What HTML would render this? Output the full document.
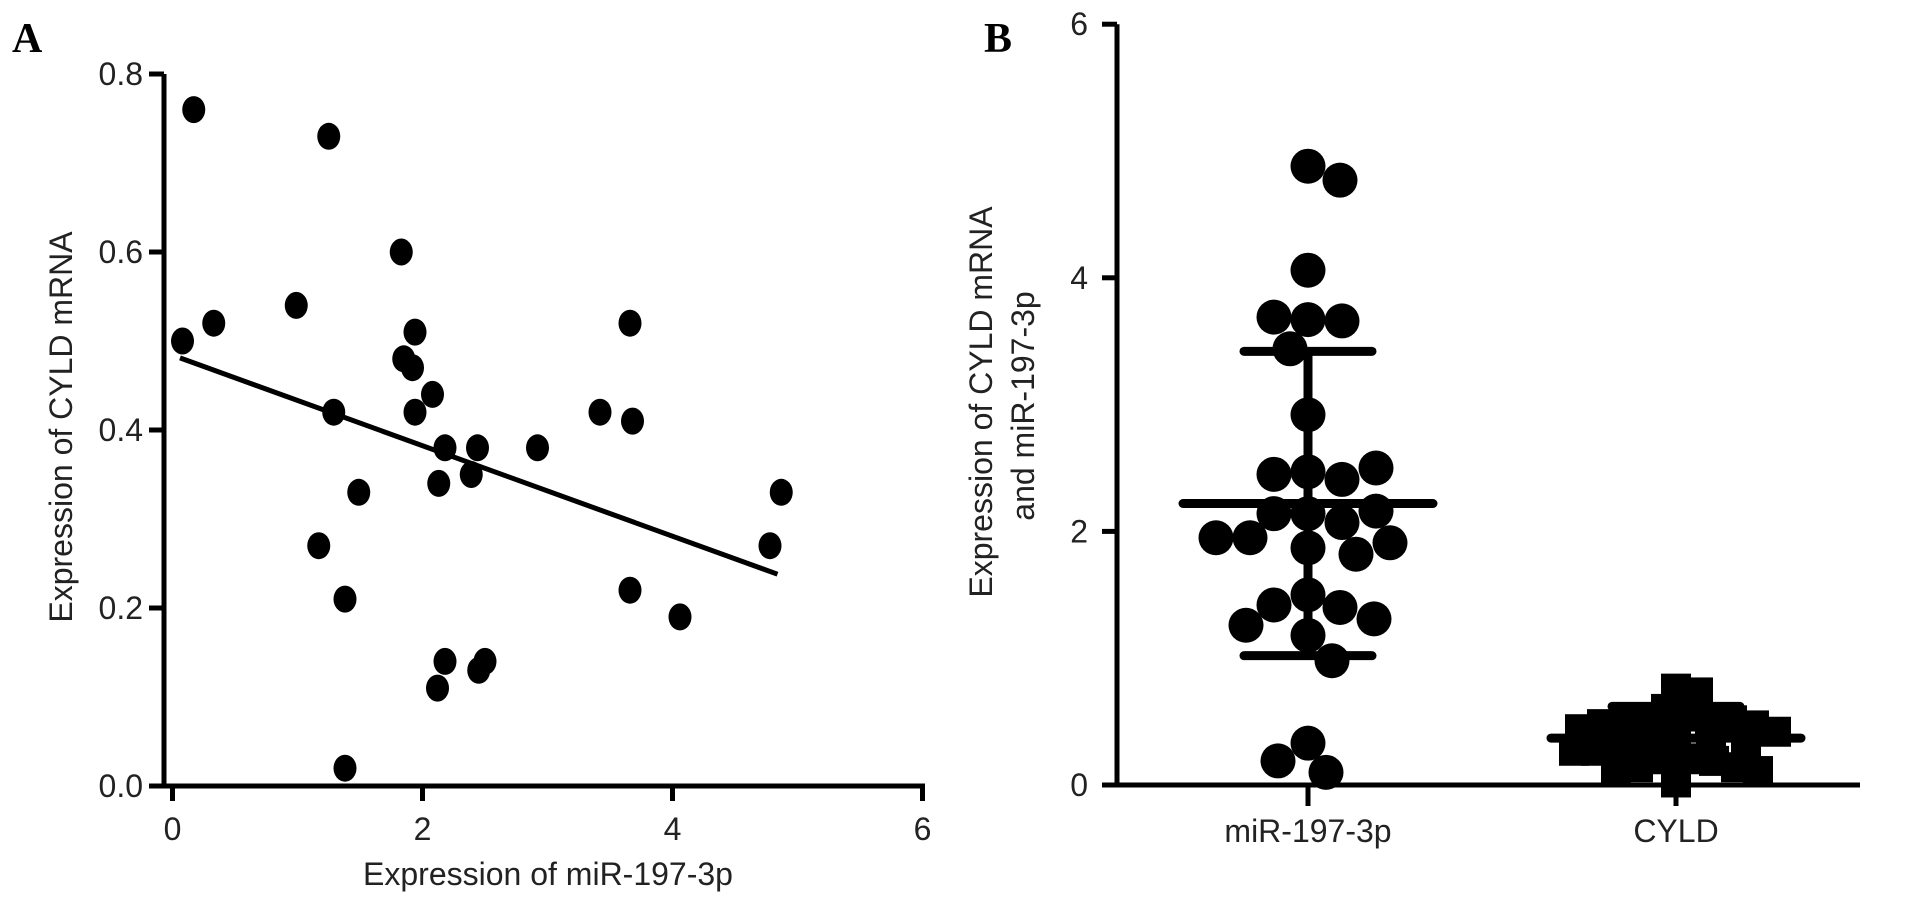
<!DOCTYPE html>
<html><head><meta charset="utf-8"><style>
html,body{margin:0;padding:0;background:#fff;}
svg{display:block;font-family:"Liberation Sans",sans-serif;}
</style></head><body>
<svg id="fig" width="1913" height="905" viewBox="0 0 1913 905"></svg>
<script>
// ---- Panel A data ----
const aX = [0.17,1.25,1.83,0.99,0.33,0.08,3.66,1.94,1.85,1.92,2.08,1.94,1.29,3.42,3.68,2.18,2.44,2.92,2.39,2.13,1.49,4.87,1.17,4.78,1.38,3.66,4.06,2.18,2.50,2.45,2.12,1.38];
const aY = [0.76,0.73,0.60,0.54,0.52,0.50,0.52,0.51,0.48,0.47,0.44,0.42,0.42,0.42,0.41,0.38,0.38,0.38,0.35,0.34,0.33,0.33,0.27,0.27,0.21,0.22,0.19,0.14,0.14,0.13,0.11,0.02];
const aFitX = [0.06,4.84];
const aFitY = [0.481,0.238];
const aXTicks = [0,2,4,6];
const aYTicks = [0.0,0.2,0.4,0.6,0.8];
const aYTickLabels = ["0.0","0.2","0.4","0.6","0.8"];
// ---- Panel B data ----
const bCategories = ["miR-197-3p","CYLD"];
const bMir = [4.88,4.77,4.06,3.67,3.66,3.69,3.44,2.92,2.47,2.41,2.45,2.50,2.14,2.07,2.14,2.16,1.95,1.87,1.82,1.91,1.95,1.50,1.40,1.42,1.31,1.18,1.26,0.98,0.33,0.10,0.19];
const bCyld = aY;
const bMean = [2.22,0.37];
const bSdLow = [1.02,0.12];
const bSdHigh = [3.42,0.62];
const bYTicks = [0,2,4,6];

const NS="http://www.w3.org/2000/svg";
const svg=document.getElementById('fig');
function mk(tag,attrs,parent){const e=document.createElementNS(NS,tag);for(const k in attrs)e.setAttribute(k,attrs[k]);(parent||svg).appendChild(e);return e;}

// ---------- Panel A ----------
const gA=mk('g',{});


const ax=v=>172.5+v*125;
const ay=v=>786-v*890;
let t=mk('text',{x:12,y:52,'font-family':'Liberation Serif,serif','font-weight':'bold','font-size':42},gA);t.textContent='A';


let l=mk('line',{x1:164,y1:ay(0.8),x2:164,y2:788,stroke:'#000','stroke-width':5},gA);


l=mk('line',{x1:162,y1:786,x2:925,y2:786,stroke:'#000','stroke-width':5},gA);


aYTicks.forEach((v,i)=>{
  const tk=mk('line',{x1:149,y1:ay(v),x2:164,y2:ay(v),stroke:'#000','stroke-width':5},gA);
  
  
  const tx=mk('text',{x:143,y:ay(v)+11,'text-anchor':'end','font-size':32,fill:'#222'},gA);
  tx.textContent=aYTickLabels[i];
  
  
});
aXTicks.forEach(v=>{
  const tk=mk('line',{x1:ax(v),y1:786,x2:ax(v),y2:801,stroke:'#000','stroke-width':5},gA);
  
  
  const tx=mk('text',{x:ax(v),y:840,'text-anchor':'middle','font-size':32,fill:'#222'},gA);
  tx.textContent=String(v);
  
  
});
t=mk('text',{x:548,y:885,'text-anchor':'middle','font-size':32,fill:'#222'},gA);t.textContent='Expression of miR-197-3p';


t=mk('text',{x:0,y:0,'text-anchor':'middle','font-size':32,fill:'#222',transform:'translate(72,427) rotate(-90)'},gA);t.textContent='Expression of CYLD mRNA';


l=mk('line',{x1:ax(aFitX[0]),y1:ay(aFitY[0]),x2:ax(aFitX[1]),y2:ay(aFitY[1]),stroke:'#000','stroke-width':5},gA);


aX.forEach((v,i)=>{
  const p=mk('ellipse',{cx:ax(v),cy:ay(aY[i]),rx:11.5,ry:13.5,fill:'#000'},gA);
  
  
});

// ---------- Panel B ----------
const gB=mk('g',{});


const by=v=>785-v*126.8;
const bx=[1308,1676];
t=mk('text',{x:984,y:52,'font-family':'Liberation Serif,serif','font-weight':'bold','font-size':42},gB);t.textContent='B';


t=mk('text',{x:0,y:0,'text-anchor':'middle','font-size':32,fill:'#222',transform:'translate(992,402) rotate(-90)'},gB);t.textContent='Expression of CYLD mRNA';


t=mk('text',{x:0,y:0,'text-anchor':'middle','font-size':32,fill:'#222',transform:'translate(1034,406) rotate(-90)'},gB);t.textContent='and miR-197-3p';



function swarm(vals,cx,size,maxOff){
  const placed=[];const out=[];
  vals.forEach(v=>{
    const y=by(v);let best=0;
    for(let k=0;k<400;k++){
      const cand=(k%2?1:-1)*Math.ceil(k/2)*2;
      if(Math.abs(cand)>maxOff){best=(k%2?1:-1)*maxOff*((placed.length%3)/3);break;}
      if(placed.every(p=>Math.hypot(p[0]-cand,p[1]-y)>=size)){best=cand;break;}
    }
    placed.push([best,y]);out.push(cx+best);
  });
  return out;
}
const mirX=swarm(bMir,bx[0],34,120);
bMir.forEach((v,i)=>{
  const c=mk('circle',{cx:mirX[i],cy:by(v),r:17.5,fill:'#000'},gB);
  
  
});
const cyX=swarm(bCyld,bx[1],22,105);
bCyld.forEach((v,i)=>{
  const s=mk('rect',{x:cyX[i]-15,y:by(v)-15,width:30,height:30,fill:'#000'},gB);
  
  
});
bCategories.forEach((c,i)=>{
  const m=mk('line',{x1:bx[i]-125,y1:by(bMean[i]),x2:bx[i]+125,y2:by(bMean[i]),stroke:'#000','stroke-width':9,'stroke-linecap':'round'},gB);
  
  
  const e=mk('line',{x1:bx[i],y1:by(bSdLow[i]),x2:bx[i],y2:by(bSdHigh[i]),stroke:'#000','stroke-width':9},gB);
  
  
  [bSdLow[i],bSdHigh[i]].forEach(v=>{
    const cp=mk('line',{x1:bx[i]-64,y1:by(v),x2:bx[i]+64,y2:by(v),stroke:'#000','stroke-width':9,'stroke-linecap':'round'},gB);
    
    
  });
  const tk=mk('line',{x1:bx[i],y1:785,x2:bx[i],y2:806,stroke:'#000','stroke-width':5},gB);
  
  
  const tx=mk('text',{x:bx[i],y:842,'text-anchor':'middle','font-size':32,fill:'#222'},gB);
  tx.textContent=c;
  
  
});
l=mk('line',{x1:1117,y1:by(6),x2:1117,y2:787,stroke:'#000','stroke-width':5},gB);


l=mk('line',{x1:1103,y1:785,x2:1860,y2:785,stroke:'#000','stroke-width':5},gB);


bYTicks.forEach(v=>{
  const tk=mk('line',{x1:1102,y1:by(v),x2:1117,y2:by(v),stroke:'#000','stroke-width':5},gB);
  
  
  const tx=mk('text',{x:1088,y:by(v)+11,'text-anchor':'end','font-size':32,fill:'#222'},gB);
  tx.textContent=String(v);
  
  
});
</script>
</body></html>
